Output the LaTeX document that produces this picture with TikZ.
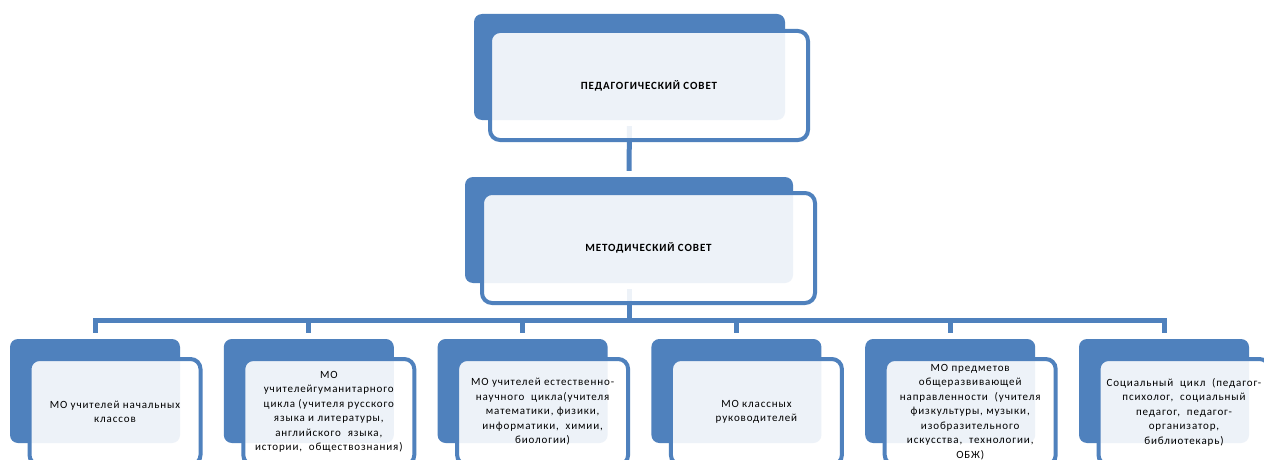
\documentclass[tikz,border=0pt]{standalone}
\usepackage{fontspec}
\setmainfont{Carlito}[LetterSpace=8]
\usetikzlibrary{calc}
\definecolor{accent}{HTML}{4F81BD}
\tikzset{
  backbox/.style={fill=accent, draw=none, rounded corners=8pt, inner sep=0pt},
  frontbox/.style={draw=accent, line width=4pt, fill=white, fill opacity=0.9, text opacity=1,
    rounded corners=10pt, align=center, inner sep=2pt, text=black},
  bodytext/.style={font=\fontsize{11}{14.5}\selectfont},
  headtext/.style={font=\fontsize{11}{13}\selectfont\bfseries},
  smallback/.style={backbox, minimum width=170pt, minimum height=104pt},
  smallfront/.style={frontbox, bodytext, minimum width=171pt, minimum height=106pt},
  conn/.style={draw=accent, line width=5pt},
}
\begin{document}
\begin{tikzpicture}[x=1pt,y=-1pt]
\clip (0,0) rectangle (1264,460);
\fill[white] (0,0) rectangle (1264,460);
% back boxes
\node[backbox, minimum width=311pt, minimum height=106pt] (pb) at (629.5,67) {};
\node[backbox, minimum width=328pt, minimum height=106pt] (mb) at (629,230) {};
\foreach \i in {1,...,6}{
  \node[smallback] (b\i) at ({95+213.8*(\i-1)},391) {};
}
% connectors
\coordinate (bus) at (629,320);
\draw[conn, shorten <=6pt, shorten >=6pt] (pb.south) -- (mb.north);
\draw[conn, shorten <=6pt] (mb.south) -- (bus);
\draw[conn, shorten <=6pt, shorten >=6pt] (b1.north) |- (bus -| b6.north) -- (b6.north);
\foreach \i in {2,...,5}{
  \draw[conn, shorten >=6pt] (bus -| b\i.north) -- (b\i.north);
}
% front boxes
\node[frontbox, headtext, minimum width=318pt, minimum height=109pt] (pf) at (649,85.5) {ПЕДАГОГИЧЕСКИЙ СОВЕТ};
\node[frontbox, headtext, minimum width=333pt, minimum height=110pt] (mf) at (648.5,248) {МЕТОДИЧЕСКИЙ СОВЕТ};
\node[smallfront] (f1) at ($(b1)+(20,21)$) {МО учителей начальных\\классов};
\node[smallfront] (f2) at ($(b2)+(20,21)$) {МО\\учителейгуманитарного\\цикла (учителя русского\\языка и литературы,\\английского~ языка,\\истории,~ обществознания)};
\node[smallfront] (f3) at ($(b3)+(20,21)$) {МО учителей естественно-\\научного~ цикла(учителя\\математики, физики,\\информатики,~ химии,\\биологии)};
\node[smallfront] (f4) at ($(b4)+(20,21)$) {МО классных\\руководителей};
\node[smallfront] (f5) at ($(b5)+(20,21)$) {МО предметов\\общеразвивающей\\направленности~ (учителя\\физкультуры, музыки,\\изобразительного\\искусства,~ технологии,\\ОБЖ)};
\node[smallfront] (f6) at ($(b6)+(20,21)$) {Социальный~ цикл~ (педагог-\\психолог,~ социальный\\педагог,~ педагог-\\организатор,\\библиотекарь)};
\end{tikzpicture}
\end{document}
